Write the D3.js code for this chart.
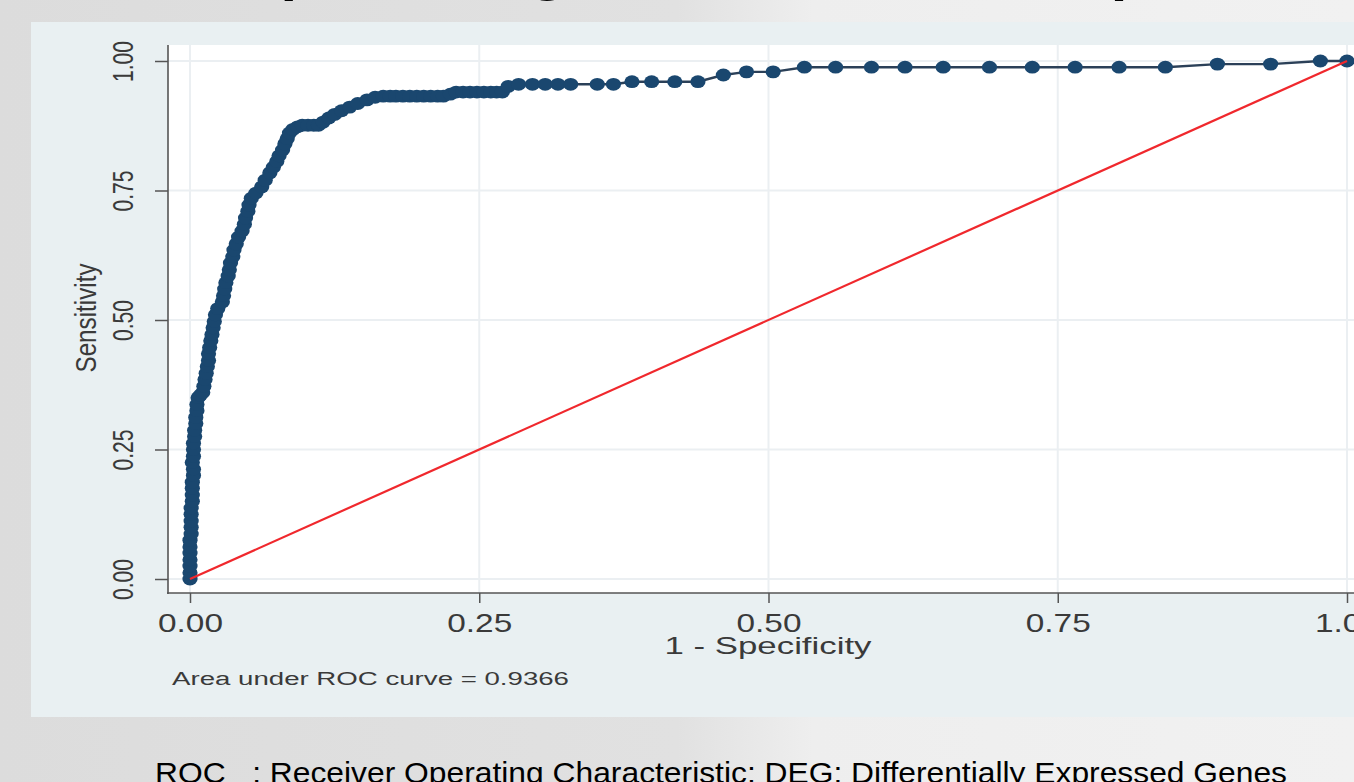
<!DOCTYPE html>
<head>
  <meta charset="utf-8">
  <script src="https://d3js.org/d3.v7.min.js"></script>
  <style>
    body { margin: 0; overflow: hidden; background: #e4e4e4; }
    svg { display: block; font-family: "Liberation Sans", Arial, sans-serif; }
  </style>
</head>
<body>
  <div id="chart"></div>

  <script>
    var width = 1354;
    var height = 782;

    // ROC points (1 - specificity, sensitivity)
    var fpr = [
      0, 0, 0, 0, 0, 0, 0, 0.001, 0.001, 0.001, 0.001, 0.001, 0.002, 0.002, 0.002, 0.002, 0.003, 0.003, 0.002, 0.003, 0.003,
      0.003, 0.004, 0.004, 0.005, 0.005, 0.006, 0.006, 0.007, 0.009, 0.011, 0.012, 0.013, 0.014, 0.015, 0.016, 0.016, 0.017,
      0.018, 0.019, 0.02, 0.021, 0.022, 0.024,
      0.028, 0.029, 0.030, 0.031, 0.033, 0.034, 0.035, 0.037, 0.038, 0.040, 0.042, 0.045, 0.047, 0.048, 0.050, 0.051, 0.053,
      0.057, 0.062, 0.065, 0.069, 0.072, 0.075, 0.077, 0.080, 0.082, 0.084, 0.086, 0.089, 0.093,
      0.097, 0.102, 0.107, 0.111, 0.115, 0.12, 0.125, 0.131, 0.138, 0.145, 0.153, 0.16,
      0.167, 0.173, 0.178, 0.184, 0.19, 0.196, 0.202, 0.208, 0.214, 0.219, 0.225,
      0.23, 0.236, 0.242, 0.248, 0.254, 0.26, 0.265, 0.27,
      0.275, 0.284, 0.296, 0.307, 0.318, 0.329, 0.352, 0.366, 0.382, 0.399, 0.419, 0.439, 0.461, 0.481, 0.504,
      0.531, 0.558, 0.589, 0.618, 0.651, 0.691, 0.728, 0.765, 0.803, 0.843, 0.888, 0.934, 0.977, 1
    ];
    var tpr = [
      0, 0.012, 0.025, 0.037, 0.05, 0.062, 0.075, 0.087, 0.1, 0.112, 0.125, 0.137, 0.15, 0.162, 0.175, 0.187, 0.2, 0.212, 0.225, 0.237, 0.25,
      0.262, 0.275, 0.287, 0.3, 0.312, 0.325, 0.337, 0.35, 0.355, 0.36, 0.372, 0.385, 0.397, 0.41, 0.422, 0.435, 0.447,
      0.46, 0.472, 0.485, 0.497, 0.51, 0.522,
      0.535, 0.547, 0.56, 0.572, 0.585, 0.597, 0.61, 0.622, 0.635, 0.647, 0.66, 0.672, 0.685, 0.697, 0.71, 0.722, 0.735,
      0.745, 0.757, 0.77, 0.784, 0.795, 0.806, 0.817, 0.828, 0.84, 0.85, 0.861, 0.868, 0.873,
      0.876, 0.876, 0.876, 0.876, 0.882, 0.89, 0.897, 0.904, 0.911, 0.918, 0.925, 0.93,
      0.932, 0.932, 0.932, 0.932, 0.932, 0.932, 0.932, 0.932, 0.932, 0.932, 0.936,
      0.94, 0.94, 0.94, 0.94, 0.94, 0.94, 0.94, 0.94,
      0.951, 0.955, 0.955, 0.955, 0.955, 0.955, 0.955, 0.955, 0.96, 0.96, 0.96, 0.96, 0.973, 0.979, 0.979,
      0.988, 0.988, 0.988, 0.988, 0.988, 0.988, 0.988, 0.988, 0.988, 0.988, 0.994, 0.994, 1, 1
    ];
    var refLine = [0, 1];
    var xTicks = [0, 0.25, 0.5, 0.75, 1];
    var yTicks = [0, 0.25, 0.5, 0.75, 1];

    var titleText = "ROC plot using the DEG classifier panel";
    var xTitle = "1 - Specificity";
    var yTitle = "Sensitivity";
    var aucNote = "Area under ROC curve = 0.9366";
    var footnote = "ROC   : Receiver Operating Characteristic; DEG: Differentially Expressed Genes";

    var points = fpr.map(function(f, i) { return {x: f, y: tpr[i]}; });

    var svg = d3.select('#chart')
      .append('svg')
        .attr('width', width)
        .attr('height', height);

    // slide background
    var grad = svg.append('defs').append('linearGradient')
        .attr('id', 'bg')
        .attr('x1', 0).attr('x2', 1).attr('y1', 0).attr('y2', 0);
    grad.append('stop').attr('offset', 0).attr('stop-color', '#dcdcdc');
    grad.append('stop').attr('offset', 0.5).attr('stop-color', '#e1e1e1');
    grad.append('stop').attr('offset', 0.6).attr('stop-color', '#eeeeee');
    grad.append('stop').attr('offset', 1).attr('stop-color', '#f1f1f1');
    svg.append('rect')
      .attr('width', width).attr('height', height)
      .attr('fill', 'url(#bg)');

    // cut-off slide title, only the descenders show
    svg.append('text')
      .attr('transform', 'translate(131,-9) scale(1.3,1)')
      .attr('font-size', 46)
      .attr('font-weight', 'bold')
      .attr('fill', '#000')
      .text(titleText);

    // graph region (stata bluish gray)
    svg.append('rect')
      .attr('x', 31).attr('y', 22)
      .attr('width', width - 31).attr('height', 695)
      .attr('fill', '#e9f0f2');

    // plot region
    svg.append('rect')
      .attr('x', 168).attr('y', 45)
      .attr('width', width - 168).attr('height', 548)
      .attr('fill', '#ffffff');

    var x = d3.scaleLinear().domain([0, 1]).range([190, 1347]);
    var y = d3.scaleLinear().domain([0, 1]).range([579, 61]);

    // grid
    svg.append('g').selectAll('line').data(yTicks).join('line')
      .attr('x1', 168).attr('x2', width)
      .attr('y1', d => y(d)).attr('y2', d => y(d))
      .attr('stroke', '#ebeff2').attr('stroke-width', 2);
    svg.append('g').selectAll('line').data(xTicks).join('line')
      .attr('x1', d => x(d)).attr('x2', d => x(d))
      .attr('y1', 45).attr('y2', 593)
      .attr('stroke', '#ebeff2').attr('stroke-width', 2);

    // axes
    var xAxis = svg.append('g')
      .attr('transform', 'translate(0,593)')
      .call(d3.axisBottom(x).tickValues(xTicks).tickFormat(d3.format('.2f')).tickSize(10));
    xAxis.select('.domain').remove();
    xAxis.selectAll('line').attr('stroke', '#555').attr('stroke-width', 1.5);
    xAxis.selectAll('text')
      .attr('y', 39).attr('dy', null)
      .attr('font-size', 25)
      .attr('font-family', '"Liberation Sans", Arial, sans-serif')
      .attr('fill', '#3a3a3a')
      .attr('textLength', 65)
      .attr('lengthAdjust', 'spacingAndGlyphs');

    var yAxis = svg.append('g')
      .attr('transform', 'translate(168,0)')
      .call(d3.axisLeft(y).tickValues(yTicks).tickFormat(d3.format('.2f')).tickSize(13));
    yAxis.select('.domain').remove();
    yAxis.selectAll('line').attr('stroke', '#555').attr('stroke-width', 1.5);
    yAxis.selectAll('text')
      .attr('x', null).attr('dy', null)
      .attr('transform', 'translate(-35,0) scale(1.3,1) rotate(-90)')
      .attr('text-anchor', 'middle')
      .attr('font-size', 22)
      .attr('font-family', '"Liberation Sans", Arial, sans-serif')
      .attr('fill', '#3a3a3a')
      .attr('textLength', 41)
      .attr('lengthAdjust', 'spacingAndGlyphs');

    svg.append('line')
      .attr('x1', 168).attr('x2', 168).attr('y1', 45).attr('y2', 594)
      .attr('stroke', '#555').attr('stroke-width', 1.6);
    svg.append('line')
      .attr('x1', 167).attr('x2', width).attr('y1', 593).attr('y2', 593)
      .attr('stroke', '#555').attr('stroke-width', 1.6);

    // axis titles
    svg.append('text')
      .attr('x', 768).attr('y', 654)
      .attr('text-anchor', 'middle')
      .attr('font-size', 24)
      .attr('fill', '#3a3a3a')
      .attr('textLength', 207)
      .attr('lengthAdjust', 'spacingAndGlyphs')
      .text(xTitle);
    svg.append('text')
      .attr('transform', 'translate(96,318) scale(1.3,1) rotate(-90)')
      .attr('text-anchor', 'middle')
      .attr('font-size', 22)
      .attr('fill', '#3a3a3a')
      .attr('textLength', 109)
      .attr('lengthAdjust', 'spacingAndGlyphs')
      .text(yTitle);

    svg.append('text')
      .attr('x', 172).attr('y', 685)
      .attr('font-size', 18)
      .attr('fill', '#3a3a3a')
      .attr('textLength', 397)
      .attr('lengthAdjust', 'spacingAndGlyphs')
      .text(aucNote);

    // roc curve
    var line = d3.line().x(d => x(d.x)).y(d => y(d.y));
    svg.append('path')
      .datum(points)
      .attr('d', line)
      .attr('fill', 'none')
      .attr('stroke', '#2b4058')
      .attr('stroke-width', 2.4);
    svg.append('g').selectAll('ellipse').data(points).join('ellipse')
      .attr('cx', d => x(d.x))
      .attr('cy', d => y(d.y))
      .attr('rx', 7.6).attr('ry', 6.4)
      .attr('fill', '#1a476f');

    // reference line
    svg.append('path')
      .datum(refLine)
      .attr('d', d3.line().x(d => x(d)).y(d => y(d)))
      .attr('stroke', '#f0282d')
      .attr('stroke-width', 2.2);

    // slide footnote
    svg.append('text')
      .attr('x', 155).attr('y', 783)
      .attr('font-size', 30)
      .attr('font-family', '"Liberation Sans Narrow", "Arial Narrow", "Liberation Sans", sans-serif')
      .attr('fill', '#000')
      .attr('textLength', 1132)
      .attr('lengthAdjust', 'spacingAndGlyphs')
      .style('white-space', 'pre')
      .text(footnote);
  </script>
</body>
